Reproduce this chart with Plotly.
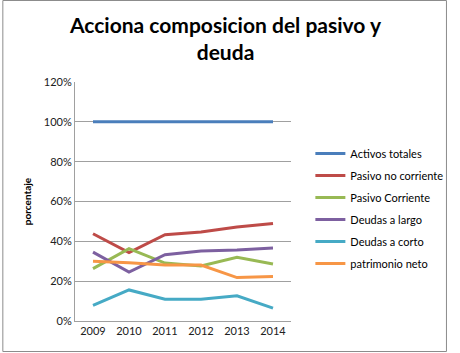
import plotly.graph_objects as go

years = ["2009", "2010", "2011", "2012", "2013", "2014"]
activos_totales = [100, 100, 100, 100, 100, 100]
pasivo_no_corriente = [43.8, 34.3, 43.3, 44.7, 47.2, 49.0]
pasivo_corriente = [26.3, 36.3, 29.1, 27.6, 32.0, 28.6]
deudas_largo = [34.6, 24.6, 33.3, 35.1, 35.6, 36.7]
deudas_corto = [7.9, 15.6, 10.9, 10.9, 12.7, 6.5]
patrimonio_neto = [30.0, 29.3, 28.1, 28.1, 21.8, 22.3]

series = [
    ("Activos totales", activos_totales, "#4A7EBB"),
    ("Pasivo no corriente", pasivo_no_corriente, "#BE4B48"),
    ("Pasivo Corriente", pasivo_corriente, "#98B954"),
    ("Deudas a largo", deudas_largo, "#7D60A0"),
    ("Deudas a corto", deudas_corto, "#46AAC5"),
    ("patrimonio neto", patrimonio_neto, "#F79646"),
]

W, H = 460, 353
L, R, T, B = 75, 162, 82, 32

fig = go.Figure()
for i, (name, vals, col) in enumerate(series):
    fig.add_trace(go.Scatter(
        x=years, y=vals, name=name, mode="lines",
        line=dict(color=col, width=3),
        legendgroup=str(i),
    ))

pw = W - L - R
ph = H - T - B
fig.update_layout(
    width=W, height=H,
    margin=dict(l=L, r=R, t=T, b=B),
    paper_bgcolor="white", plot_bgcolor="white",
    font=dict(family="Lato, Liberation Sans, Arial, sans-serif", size=11, color="#404040"),
    xaxis=dict(
        type="category", showgrid=False, showline=True, linecolor="#a0a0a0",
        linewidth=1, ticks="", tickfont=dict(size=11, color="#202020"),
        range=[-0.5, 5.5],
    ),
    yaxis=dict(
        range=[0, 120], dtick=20, ticksuffix="%", showgrid=True,
        gridcolor="#a0a0a0", gridwidth=1, showline=True, linecolor="#a0a0a0",
        linewidth=1, zeroline=False, ticks="", tickfont=dict(size=11, color="#202020"),
        title=dict(text="<b>porcentaje</b>", font=dict(size=10, color="black"), standoff=10),
    ),
    legend=dict(
        x=(318 - L) / pw, xanchor="left", y=(H - B - 139) / ph, yanchor="top",
        font=dict(size=11, color="black"), tracegroupgap=3,
        bgcolor="rgba(0,0,0,0)", itemwidth=30,
    ),
    annotations=[dict(
        text="<b>Acciona composicion del pasivo y<br>deuda</b>",
        xref="paper", yref="paper", x=(230 - L) / pw, xanchor="center",
        y=(H - B - 10) / ph, yanchor="top", showarrow=False, align="center",
        font=dict(size=21, color="black", family="Lato, Liberation Sans, sans-serif"),
    )],
    shapes=[dict(
        type="rect", xref="paper", yref="paper",
        x0=(-L + 0.5) / pw, x1=(W - L - 1.5) / pw,
        y0=(-B + 1.5) / ph, y1=(H - B - 0.5) / ph,
        line=dict(color="#8c8c8c", width=1),
    )],
)

fig.write_html("out.html")
